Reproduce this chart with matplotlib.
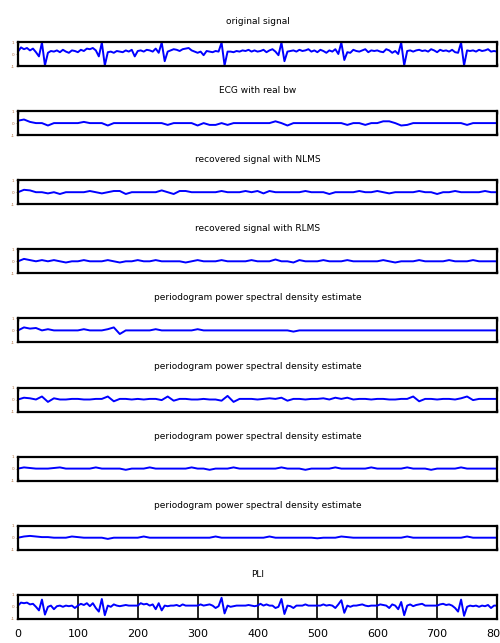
import numpy as np
import matplotlib
matplotlib.use("Agg")
import matplotlib.pyplot as plt

plt.rcParams['font.family'] = ['Liberation Sans Narrow', 'DejaVu Sans']

titles = ["original signal", "ECG with real bw", "recovered signal with NLMS",
          "recovered signal with RLMS",
          "periodogram power spectral density estimate",
          "periodogram power spectral density estimate",
          "periodogram power spectral density estimate",
          "periodogram power spectral density estimate", "PLI"]

xtick_labels = ["0", "100", "200", "300", "400", "500", "600", "700", "800"]

# dense series: one value every 5 samples (0..800)
original = [
    0.2, 0.55, 0.4, 0.5, 0.3, 0.45, 0.15, -0.2, 0.95, -0.95, 0.1, 0.25, 0.2, 0.3, 0.15, 0.35, 0.2, 0.1, 0.3, 0.25,
    0.15, 0.35, 0.25, 0.45, 0.4, 0.5, 0.3, -0.2, 0.95, -0.95, 0.15, 0.2, 0.1, 0.25, 0.2, 0.15, 0.3, 0.2, 0.35, -0.2,
    0.25, 0.3, 0.2, 0.35, 0.3, 0.2, 0.45, 0.1, 0.95, -0.6, 0.2, 0.3, 0.4, 0.35, 0.25, 0.4, 0.45, 0.5, 0.3, 0.2,
    0.1, 0.2, -0.1, 0.25, 0.2, 0.15, 0.25, 0.2, 0.95, -0.95, 0.2, 0.2, 0.15, 0.25, 0.2, 0.3, 0.25, 0.35, 0.2, 0.3,
    0.2, 0.25, 0.35, 0.15, 0.3, 0.4, 0.2, -0.1, 0.95, -0.6, 0.2, 0.25, 0.3, 0.2, 0.35, 0.25, 0.3, 0.4, 0.2, 0.3,
    0.15, 0.35, 0.25, 0.1, 0.3, 0.2, 0.4, 0.0, 0.95, -0.5, 0.15, 0.1, 0.35, 0.25, 0.2, 0.3, 0.4, 0.15, 0.3, 0.25,
    0.3, 0.2, 0.15, 0.4, 0.3, 0.1, 0.25, 0.0, 0.95, -0.95, 0.25, 0.3, 0.2, 0.3, 0.35, 0.25, 0.3, 0.2, 0.4, 0.3,
    0.15, 0.35, 0.25, 0.3, 0.2, 0.35, 0.15, 0.1, 0.95, -0.95, 0.3, 0.25, 0.3, 0.2, 0.35, 0.25, 0.3, 0.4, 0.2, 0.25,
    0.2,
]
pli = [
    0.1, 0.35, 0.3, 0.35, 0.2, 0.25, 0.0, -0.3, 0.6, -0.65, 0.0, 0.1, -0.2, 0.05, 0.1, 0.0, 0.1, 0.05, 0.1, -0.1,
    0.1, 0.25, 0.15, 0.3, 0.05, 0.3, -0.1, -0.4, 0.65, -0.7, 0.1, 0.0, 0.2, 0.1, 0.05, 0.1, 0.15, 0.1, 0.1, 0.1,
    0.1, 0.3, 0.2, 0.25, 0.1, 0.2, -0.2, 0.3, -0.3, 0.1, 0.05, 0.1, 0.1, 0.15, 0.05, 0.2, 0.1, 0.1, 0.1, 0.1,
    0.1, 0.2, 0.1, 0.15, 0.2, 0.1, -0.1, 0.05, 0.75, -0.55, 0.1, 0.0, 0.05, 0.1, 0.1, 0.1, 0.1, 0.15, 0.1, 0.05,
    0.1, 0.25, 0.1, 0.2, 0.1, 0.1, -0.1, 0.0, 0.65, -0.6, 0.1, 0.05, -0.1, 0.1, 0.1, 0.1, 0.2, 0.1, 0.1, 0.1,
    0.1, 0.1, 0.2, 0.1, 0.15, 0.1, -0.1, 0.2, 0.55, -0.5, 0.1, 0.0, 0.1, 0.1, 0.15, 0.2, 0.1, 0.05, 0.1, 0.1,
    0.1, 0.2, 0.15, 0.1, -0.1, 0.2, 0.1, -0.2, 0.4, -0.7, 0.1, 0.2, 0.05, 0.15, 0.2, 0.25, 0.1, 0.1, 0.1, 0.1,
    0.1, 0.2, 0.25, 0.15, 0.2, 0.1, -0.1, -0.4, 0.6, -0.75, 0.0, 0.1, 0.05, 0.1, 0.0, 0.1, 0.05, 0.15, -0.1, 0.1,
    0.1,
]

# smoother series: one value every 10 samples (0..800)
ecg_bw = [
    0.2, 0.3, 0.1, 0.0, 0.0, -0.2, 0.0, 0.0, 0.0, 0.0, 0.0, 0.1, 0.0, 0.0, 0.0, -0.2, 0.0, 0.0, 0.0, 0.0,
    0.0, 0.0, 0.0, 0.0, 0.0, -0.15, 0.0, 0.0, 0.0, 0.0, -0.2, 0.0, -0.15, -0.15, 0.0, -0.15, 0.0, 0.0, 0.0, 0.0,
    0.0, 0.0, 0.0, 0.15, 0.0, -0.2, 0.0, 0.0, 0.0, 0.0, 0.0, 0.0, 0.0, 0.0, 0.0, -0.15, 0.0, 0.0, -0.15, 0.0,
    0.0, 0.15, 0.15, 0.0, -0.2, -0.15, 0.0, 0.0, 0.0, 0.0, 0.0, 0.0, 0.0, 0.0, 0.0, -0.15, 0.0, 0.0, 0.0, 0.0,
    0.0,
]
nlms = [
    0.0, 0.2, 0.15, 0.0, 0.0, -0.1, 0.0, -0.15, 0.0, 0.0, 0.0, 0.0, 0.1, 0.0, -0.1, 0.0, 0.1, 0.1, -0.15, 0.0,
    0.0, 0.0, 0.0, 0.0, 0.15, 0.0, -0.15, 0.1, 0.1, 0.0, 0.0, 0.0, 0.0, 0.0, 0.1, 0.0, 0.0, 0.0, 0.1, 0.0,
    0.1, -0.1, 0.1, 0.0, 0.0, 0.0, 0.0, 0.0, 0.1, 0.0, 0.0, 0.0, -0.15, 0.0, 0.0, 0.0, 0.0, 0.1, 0.0, 0.0,
    0.1, 0.0, -0.1, 0.0, 0.0, 0.0, 0.0, 0.1, 0.0, 0.0, -0.15, 0.0, 0.0, 0.1, 0.0, 0.0, 0.0, 0.0, 0.1, 0.0,
    0.0,
]
rlms = [
    0.0, 0.2, 0.1, 0.0, 0.1, 0.0, 0.1, 0.0, -0.1, 0.0, 0.0, 0.1, 0.0, 0.0, 0.0, 0.1, 0.0, -0.1, 0.0, 0.0,
    0.1, 0.0, 0.0, 0.1, 0.0, 0.0, 0.0, 0.0, -0.1, 0.0, 0.1, 0.0, 0.0, 0.0, 0.1, 0.0, 0.0, 0.0, 0.0, 0.1,
    0.0, 0.0, 0.0, 0.15, 0.0, 0.0, -0.1, 0.1, 0.0, 0.0, 0.0, 0.1, 0.0, 0.0, 0.0, 0.1, 0.0, 0.0, 0.0, 0.0,
    0.0, 0.1, 0.0, -0.1, 0.0, 0.0, 0.0, 0.1, 0.0, 0.0, 0.0, 0.0, 0.1, 0.0, 0.0, 0.0, 0.1, 0.0, 0.0, 0.0,
    0.0,
]
psd1 = [
    0.0, 0.25, 0.15, 0.2, 0.0, 0.1, 0.0, 0.0, 0.0, 0.0, 0.0, 0.1, 0.0, 0.0, 0.0, 0.1, 0.25, -0.3, 0.0, 0.0,
    0.0, 0.0, 0.0, 0.1, 0.0, 0.0, 0.0, 0.0, 0.0, 0.0, 0.1, 0.0, 0.0, 0.0, 0.0, 0.0, 0.0, 0.0, 0.0, 0.0,
    0.0, 0.0, 0.0, 0.0, 0.0, 0.0, -0.1, 0.0, 0.0, 0.0, 0.0, 0.0, 0.0, 0.0, 0.0, 0.0, 0.0, 0.0, 0.0, 0.0,
    0.0, 0.0, 0.0, 0.0, 0.0, 0.0, 0.0, 0.0, 0.0, 0.0, 0.0, 0.0, 0.0, 0.0, 0.0, 0.0, 0.0, 0.0, 0.0, 0.0,
    0.0,
]
psd2 = [
    0.0, 0.15, 0.1, 0.0, 0.25, -0.2, 0.1, 0.0, 0.0, 0.05, 0.05, 0.0, 0.0, 0.05, 0.05, 0.25, -0.15, 0.05, 0.05, 0.0,
    0.05, 0.0, 0.05, 0.05, -0.05, 0.25, -0.1, 0.05, 0.05, 0.0, 0.0, 0.05, 0.0, 0.0, -0.1, 0.3, -0.2, 0.05, 0.05, 0.05,
    0.0, 0.05, 0.1, 0.05, 0.15, -0.1, 0.05, 0.05, 0.0, 0.05, 0.05, 0.1, 0.0, 0.15, 0.05, 0.15, 0.0, 0.05, 0.05, 0.0,
    0.05, 0.05, 0.0, 0.0, 0.05, 0.05, 0.25, -0.15, 0.05, 0.05, 0.0, 0.05, 0.05, 0.0, 0.1, 0.25, -0.05, 0.05, 0.05, 0.05,
    0.05,
]
psd3 = [
    0.0, 0.1, 0.05, 0.0, 0.0, 0.0, 0.05, 0.1, 0.0, 0.0, 0.0, 0.0, 0.0, 0.1, 0.0, 0.0, 0.0, 0.0, -0.1, 0.0,
    0.0, 0.0, 0.1, 0.0, 0.0, 0.0, 0.0, 0.0, 0.0, 0.1, 0.0, 0.0, -0.1, 0.0, 0.0, 0.0, 0.1, 0.0, 0.0, 0.0,
    0.0, 0.0, 0.0, 0.0, 0.1, 0.0, 0.0, 0.0, -0.1, 0.0, 0.0, 0.0, 0.0, 0.1, 0.0, 0.0, 0.0, 0.0, 0.0, 0.1,
    0.0, 0.0, 0.0, 0.0, 0.0, 0.1, 0.0, 0.0, 0.0, -0.1, 0.0, 0.0, 0.0, 0.0, 0.1, 0.0, 0.0, 0.0, 0.0, 0.0,
    0.0,
]
psd4 = [
    0.0, 0.1, 0.15, 0.1, 0.05, 0.05, 0.0, 0.0, 0.0, 0.1, 0.05, 0.0, 0.0, 0.0, 0.0, -0.1, 0.0, 0.0, 0.0, 0.0,
    0.0, 0.1, 0.0, 0.0, 0.0, 0.0, 0.0, 0.0, 0.0, 0.0, 0.0, 0.0, 0.0, 0.1, 0.0, 0.0, 0.0, 0.0, 0.0, 0.0,
    0.0, 0.0, 0.1, 0.0, 0.0, 0.0, 0.0, 0.0, 0.0, 0.0, -0.05, 0.0, 0.0, 0.0, 0.1, 0.05, 0.0, 0.0, 0.0, 0.0,
    0.0, 0.0, 0.0, 0.0, 0.0, 0.1, 0.0, 0.0, 0.0, 0.0, 0.0, 0.0, 0.0, 0.0, 0.0, 0.1, 0.0, 0.0, 0.0, 0.0,
    0.0,
]

series = [original, ecg_bw, nlms, rlms, psd1, psd2, psd3, psd4, pli]

fig = plt.figure(figsize=(5.0, 6.43), dpi=100)
W, H = 500.0, 643.0
left_px, right_px = 18.0, 497.0
top0_px, step_px, h_px = 42.0, 69.1, 24.0

for i, (ttl, ys) in enumerate(zip(titles, series)):
    top = top0_px + i * step_px
    ax = fig.add_axes([left_px / W, 1 - (top + h_px) / H,
                       (right_px - left_px) / W, h_px / H])
    n = len(ys)
    xs = np.linspace(0, 800, n)
    ax.plot(xs, ys, color='#0000ff', lw=1.4)
    ax.set_xlim(0, 800)
    ax.set_ylim(-1, 1)
    for s in ax.spines.values():
        s.set_linewidth(1.6)
        s.set_color('black')
    ax.set_yticks([-1, 0, 1])
    ax.set_yticklabels(['-1', '0', '1'], fontsize=3, color='#b07040')
    ax.tick_params(axis='y', length=1.5, width=0.5, pad=1, colors='#b07040')
    ax.set_title(ttl, fontsize=6.5, pad=13)
    if i == len(titles) - 1:
        ax.set_xticks(np.arange(0, 801, 100))
        ax.set_xticklabels(xtick_labels, fontsize=8)
        ax.tick_params(axis='x', direction='in', length=h_px * 0.72,
                       width=1.2, pad=7, top=False)
    else:
        ax.set_xticks([0, 800])
        ax.set_xticklabels([])
        ax.tick_params(axis='x', direction='in', length=2, width=1.0, top=True)

fig.savefig('out.png', dpi=100)
